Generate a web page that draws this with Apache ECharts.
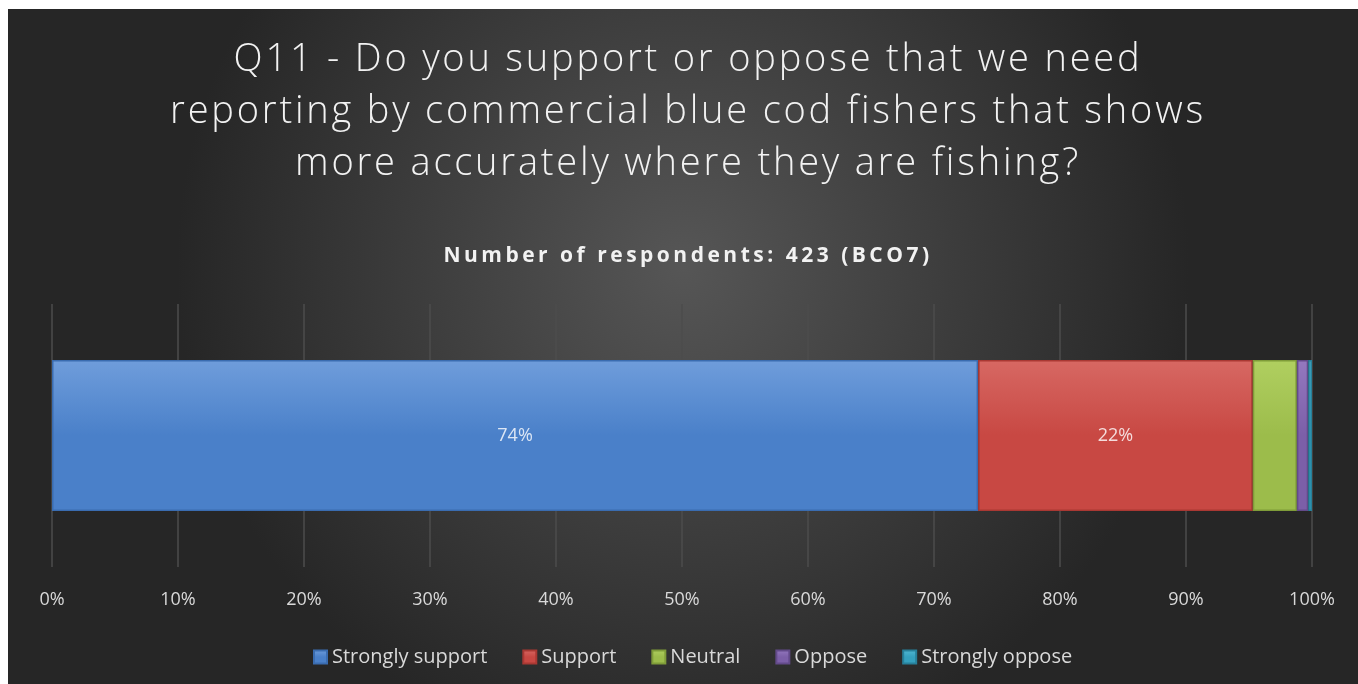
<!DOCTYPE html>
<html>
<head>
<meta charset="utf-8">
<script src="https://cdn.jsdelivr.net/npm/echarts@6/dist/echarts.min.js"></script>
<style>
html,body{margin:0;padding:0;background:#fff;}
#chart{position:absolute;left:8px;top:9px;width:1350px;height:675px;}
</style>
</head>
<body>
<div id="chart"></div>
<script>
const categories = ['BCO7'];
const seriesNames = ['Strongly support', 'Support', 'Neutral', 'Oppose', 'Strongly oppose'];
const stronglySupport = [73.5];
const support = [21.8];
const neutral = [3.5];
const oppose = [0.9];
const stronglyOppose = [0.3];
const xTicks = [0, 10, 20, 30, 40, 50, 60, 70, 80, 90, 100];
const titleText = 'Q11 - Do you support or oppose that we need\nreporting by commercial blue cod fishers that shows\nmore accurately where they are fishing?';
const subtitleText = 'Number of respondents: 423 (BCO7)';

// letter spacing for the title texts (canvas native letterSpacing)
(function(){
  const proto = CanvasRenderingContext2D.prototype;
  const orig = proto.fillText;
  proto.fillText = function(t, x, y, w){
    const f = this.font || '';
    let ls = null;
    if (/\b38px/.test(f)) ls = '2.8px';
    else if (/\b21px/.test(f)) ls = '3.5px';
    if (ls && 'letterSpacing' in this) {
      const prev = this.letterSpacing;
      this.letterSpacing = ls;
      const r = w === undefined ? orig.call(this, t, x, y) : orig.call(this, t, x, y, w);
      this.letterSpacing = prev;
      return r;
    }
    return w === undefined ? orig.call(this, t, x, y) : orig.call(this, t, x, y, w);
  };
})();

const palette = [
  ['#6f9ddb', '#4a80c9', '#3a6cb0'],
  ['#d76863', '#c84843', '#a93833'],
  ['#b0cf60', '#9cbc4b', '#7f9c39'],
  ['#9478bf', '#7c5fa8', '#634a8a'],
  ['#52b8d3', '#35a0be', '#27809a']
];
function grad(p){
  return new echarts.graphic.LinearGradient(0,0,0,1,[
    {offset:0,color:p[0]},{offset:0.5,color:p[1]},{offset:1,color:p[1]}
  ]);
}
const values = [stronglySupport, support, neutral, oppose, stronglyOppose];

const chart = echarts.init(document.getElementById('chart'), null, {renderer:'canvas'});
chart.setOption({
  backgroundColor: {
    type:'radial', x:0.5, y:0.38, r:0.75,
    colorStops:[{offset:0,color:'#565656'},{offset:1,color:'#262626'}]
  },
  title: [
    {
      text: titleText, left:675, top:20, textAlign:'center',
      textStyle:{color:'#f2f2f2', fontFamily:'Open Sans', fontWeight:300, fontSize:38, lineHeight:52}
    },
    {
      text: subtitleText, left:675, top:232, textAlign:'center',
      textStyle:{color:'#f2f2f2', fontFamily:'Open Sans', fontWeight:'bold', fontSize:21}
    }
  ],
  legend: {
    bottom: 12, left:300, itemWidth:13, itemHeight:13, itemGap:35,
    icon:'rect',
    textStyle:{color:'#d9d9d9', fontFamily:'Open Sans', fontSize:20},
    data: seriesNames
  },
  grid: {left:44, right:46, top:295, bottom:117},
  xAxis: {
    type:'value', min:0, max:100, interval:10,
    axisLabel:{color:'#d9d9d9', fontFamily:'Open Sans', fontSize:18, margin:24,
      formatter:v=>v+'%'},
    axisLine:{show:false}, axisTick:{show:false},
    splitLine:{show:true, lineStyle:{color:'#4d4d4d', width:1.5}}
  },
  yAxis: {
    type:'category', data:categories, show:false
  },
  series: seriesNames.map((n,i)=>({
    name:n, type:'bar', stack:'total', barWidth:151,
    data: values[i],
    itemStyle:{color:grad(palette[i]), borderColor:palette[i][2], borderWidth:1.5},
    label:{show: i<2, position:'inside', color: i===0 ? '#dce6f5' : '#f5dcdc',
      fontFamily:'Open Sans', fontSize:18, formatter:p=>Math.round(p.value)+'%'},
    emphasis:{disabled:true}
  })),
  color: palette.map(p=>p[1])
});
</script>
</body>
</html>
